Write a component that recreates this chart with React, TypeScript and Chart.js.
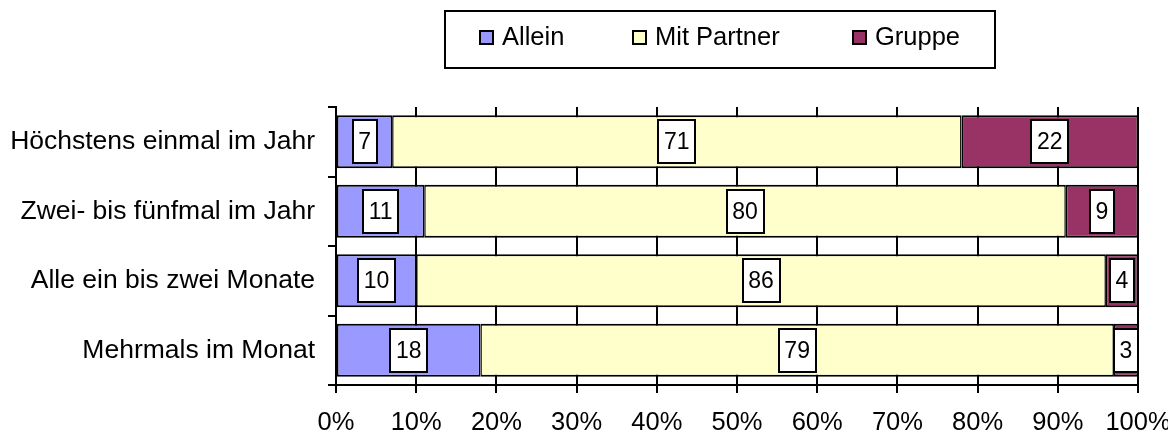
import React, { useEffect, useRef } from 'react';
import { Chart, registerables } from 'chart.js';

Chart.register(...registerables);

// Häufigkeit des Ausgehens und mit wem (Angaben in Prozent)
const categories = [
  'Höchstens einmal im Jahr',
  'Zwei- bis fünfmal im Jahr',
  'Alle ein bis zwei Monate',
  'Mehrmals im Monat',
];
const allein = [7, 11, 10, 18];
const mitPartner = [71, 80, 86, 79];
const gruppe = [22, 9, 4, 3];

const seriesNames = ['Allein', 'Mit Partner', 'Gruppe'];
const seriesColors = ['#9999FF', '#FFFFCC', '#993366'];

const FONT = '"Liberation Sans", Arial, Helvetica, sans-serif';

// White value boxes centred on every segment
const valueBoxes = {
  id: 'valueBoxes',
  afterDatasetsDraw(chart: any) {
    const ctx = chart.ctx;
    ctx.save();
    ctx.font = `23px ${FONT}`;
    ctx.textAlign = 'center';
    ctx.textBaseline = 'middle';
    chart.data.datasets.forEach((ds: any, di: number) => {
      const meta = chart.getDatasetMeta(di);
      meta.data.forEach((bar: any, i: number) => {
        const v = ds.data[i];
        const { x, y, base } = bar.getProps(['x', 'y', 'base'], true);
        const cx = (x + base) / 2;
        const label = String(v);
        const w = Math.round(ctx.measureText(label).width + 11);
        const h = 43;
        const left = Math.round(cx - w / 2);
        const top = Math.round(y - h / 2);
        ctx.fillStyle = '#ffffff';
        ctx.fillRect(left, top, w, h);
        ctx.lineWidth = 2;
        ctx.strokeStyle = '#000000';
        ctx.strokeRect(left, top, w, h);
        ctx.fillStyle = '#000000';
        ctx.fillText(label, cx, y + 1);
      });
    });
    ctx.restore();
  },
};

// Framed legend above the plot
const boxedLegend = {
  id: 'boxedLegend',
  afterDraw(chart: any) {
    const ctx = chart.ctx;
    ctx.save();
    ctx.lineWidth = 2;
    ctx.strokeStyle = '#000000';
    ctx.fillStyle = '#ffffff';
    ctx.fillRect(437, 3, 550, 57);
    ctx.strokeRect(437, 3, 550, 57);
    const itemX = [472, 625, 845];
    ctx.font = `25.5px ${FONT}`;
    ctx.textAlign = 'left';
    ctx.textBaseline = 'middle';
    seriesNames.forEach((name, i) => {
      const sx = itemX[i];
      ctx.fillStyle = seriesColors[i];
      ctx.fillRect(sx, 23, 13, 13);
      ctx.lineWidth = 2;
      ctx.strokeStyle = '#000000';
      ctx.strokeRect(sx, 23, 13, 13);
      ctx.fillStyle = '#000000';
      ctx.fillText(name, sx + 22, 30);
    });
    ctx.restore();
  },
};

export default function App() {
  const canvasRef = useRef<HTMLCanvasElement | null>(null);

  useEffect(() => {
    document.documentElement.style.overflow = 'hidden';
    const canvas = canvasRef.current;
    if (!canvas) return;
    const seriesValues = [allein, mitPartner, gruppe];
    const chart = new Chart(canvas, {
      type: 'bar',
      data: {
        labels: categories,
        datasets: seriesNames.map((name, i) => ({
          label: name,
          data: seriesValues[i],
          backgroundColor: seriesColors[i],
          borderColor: '#000000',
          borderWidth: { top: 2, bottom: 2, left: 1.5, right: 1.5 },
          borderSkipped: false,
          barPercentage: 0.76,
          categoryPercentage: 1,
        })),
      },
      options: {
        indexAxis: 'y',
        responsive: true,
        maintainAspectRatio: false,
        animation: false,
        layout: { padding: { left: 0, right: 38, top: 99, bottom: 0 } },
        plugins: {
          legend: { display: false },
          tooltip: { enabled: false },
        },
        scales: {
          x: {
            stacked: true,
            min: 0,
            max: 100,
            ticks: {
              stepSize: 10,
              autoSkip: false,
              maxRotation: 0,
              color: '#000000',
              padding: 15,
              font: { family: FONT, size: 25.5 },
              callback: (v: any) => `${v}%`,
            },
            grid: {
              color: '#000000',
              lineWidth: 2,
              tickLength: 8,
              drawOnChartArea: true,
            },
            border: { color: '#000000', width: 2 },
            afterFit: (s: any) => {
              s.height = 50;
              s.paddingLeft = 0;
              s.paddingRight = 0;
            },
          },
          y: {
            stacked: true,
            ticks: {
              autoSkip: false,
              color: '#000000',
              padding: 13,
              font: { family: FONT, size: 26.5 },
            },
            grid: {
              offset: true,
              drawOnChartArea: false,
              color: '#000000',
              lineWidth: 2,
              tickLength: 8,
            },
            border: { color: '#000000', width: 2 },
            afterFit: (s: any) => {
              s.width = 328;
              s.paddingTop = 0;
              s.paddingBottom = 0;
            },
          },
        },
      },
      plugins: [valueBoxes, boxedLegend],
    });
    return () => chart.destroy();
  }, []);

  return (
    <div style={{ position: 'relative', width: 1168, height: 427 }}>
      <canvas ref={canvasRef} />
    </div>
  );
}
